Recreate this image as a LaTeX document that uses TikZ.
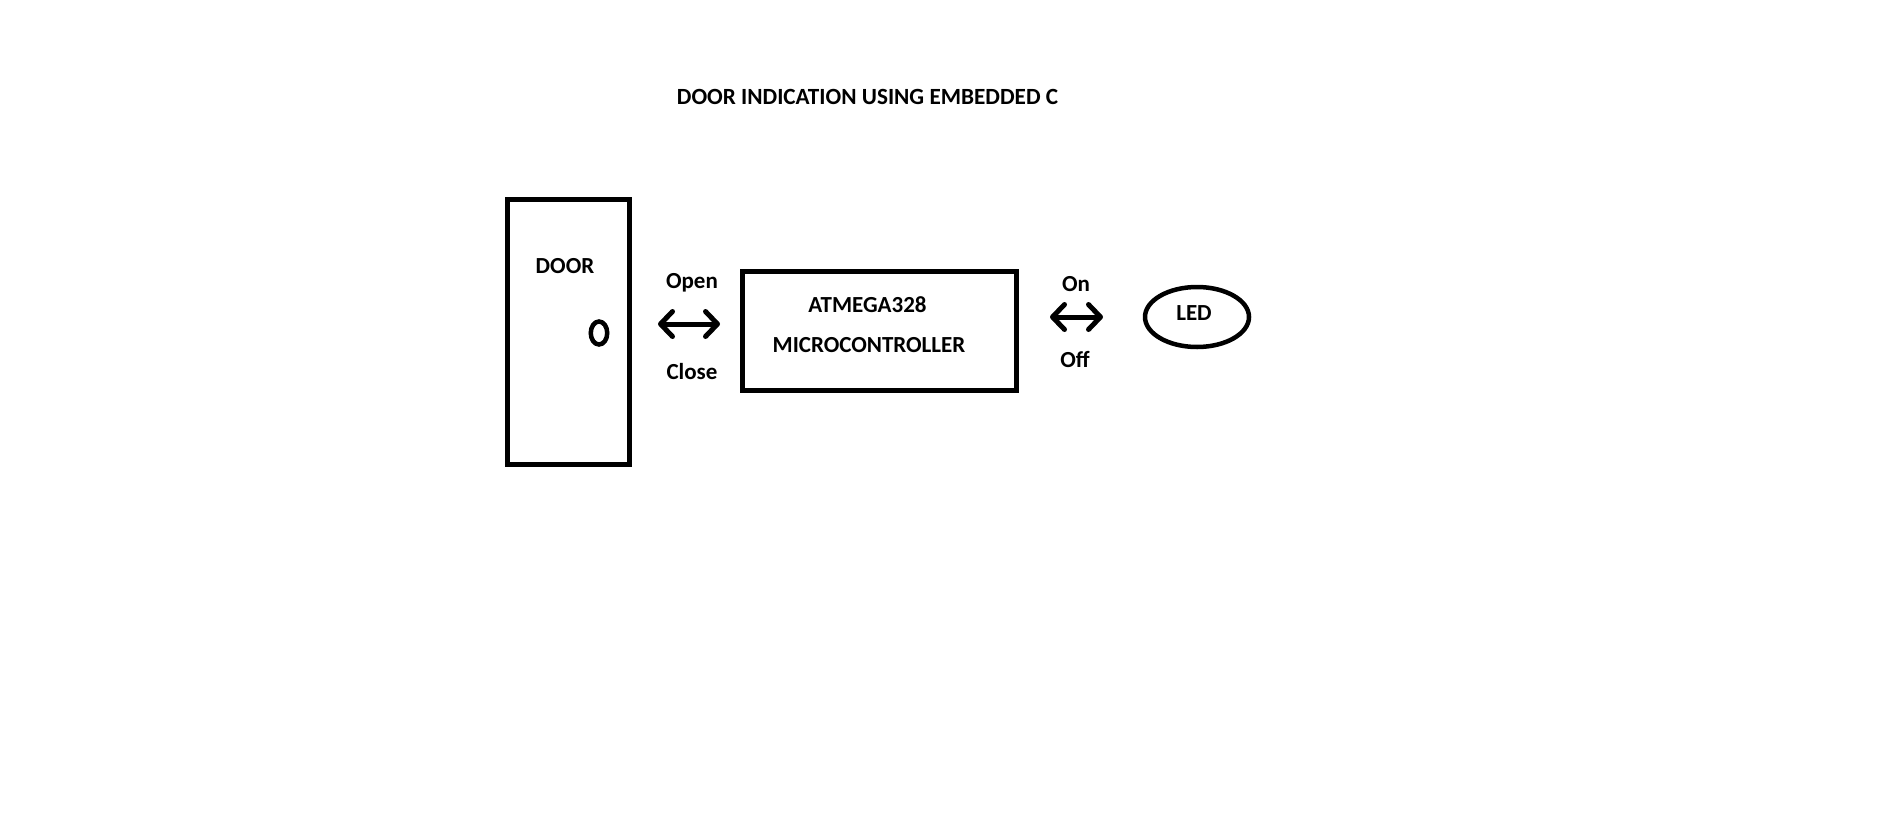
\documentclass[tikz,border=0pt]{standalone}
\usepackage{fontspec}
\setmainfont{Carlito}
\usetikzlibrary{arrows.meta,shapes.geometric}
\tikzset{
  box/.style={draw, line width=5pt, inner sep=0pt},
  lbl/.style={font=\bfseries\fontsize{23}{26}\selectfont, inner sep=0pt},
  ttl/.style={font=\bfseries\fontsize{23.2}{26}\selectfont, inner sep=0pt},
  dbl/.style={line width=5pt, line cap=round, line join=round,
    {Straight Barb[length=12pt,width=25pt,round]}-{Straight Barb[length=12pt,width=25pt,round]}}
}
\begin{document}
\begin{tikzpicture}[x=1pt,y=-1pt]
\useasboundingbox (0,0) rectangle (1889,830);
\fill[white] (0,0) rectangle (1889,830);
\node[ttl] (title) at (867.5,97) {DOOR INDICATION USING EMBEDDED C};
% door
\node[box, minimum width=122pt, minimum height=265pt] (door) at (568,331.5) {};
\node[lbl] (doorlbl) at (565,266) {DOOR};
\node[draw, line width=4.5pt, ellipse, minimum width=16.5pt, minimum height=23pt, inner sep=0pt] (knob) at (599,333) {};
% microcontroller
\node[box, minimum width=274pt, minimum height=119pt] (mcu) at (879.5,331) {};
\node[lbl] (atm) at (867.5,305) {ATMEGA328};
\node[lbl] (micro) at (869,345) {MICROCONTROLLER};
% LED
\node[draw, line width=4.5pt, ellipse, minimum width=104pt, minimum height=60pt, inner sep=0pt] (led) at (1197,317) {};
\node[lbl] (ledlbl) at (1194,313) {LED};
% arrows
\coordinate (a1) at (658,324);
\coordinate (a2) at (720,324);
\draw[dbl] (a1) -- (a2);
\node[lbl] (open) at (692,283) {Open};
\node[lbl] (close) at (692,372) {Close};
\coordinate (b1) at (1050,317);
\coordinate (b2) at (1103,317);
\draw[dbl] (b1) -- (b2);
\node[lbl] (on) at (1076,284) {On};
\node[lbl] (off) at (1075,359) {Off};
\end{tikzpicture}
\end{document}
